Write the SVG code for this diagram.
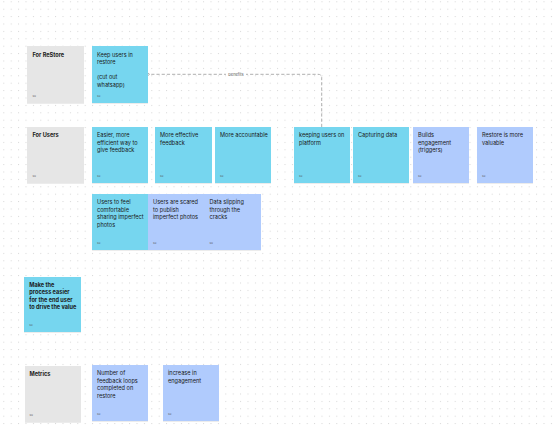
<svg xmlns="http://www.w3.org/2000/svg" width="555" height="429" viewBox="0 0 555 429">
<defs>
<pattern id="dots" x="3.3" y="1.3" width="7.4" height="7.4" patternUnits="userSpaceOnUse">
<rect x="0" y="0" width="1" height="1" fill="#d6d6d6"/>
</pattern>
<filter id="sh" x="-10%" y="-10%" width="120%" height="125%">
<feDropShadow dx="0" dy="0.6" stdDeviation="0.6" flood-color="#000" flood-opacity="0.12"/>
</filter>
<marker id="chev" markerWidth="8" markerHeight="8" refX="1" refY="4" orient="auto" markerUnits="userSpaceOnUse">
<path d="M4,1.5 L1,4 L4,6.5" fill="none" stroke="#9a9a9a" stroke-width="0.8"/>
</marker>
</defs>
<style>
.n{filter:url(#sh)}
.g{fill:#e6e6e6}
.c{fill:#76d6ef}
.b{fill:#b0cbfd}
.t{font-family:Inter,"Liberation Sans",sans-serif;font-size:5.6px;fill:#1a1a1a}
.tb{font-family:Inter,"Liberation Sans",sans-serif;font-size:5.6px;font-weight:700;fill:#1a1a1a}
.s{font-family:Inter,"Liberation Sans",sans-serif;font-size:2.6px;fill:#555}
.lbl{font-family:Inter,"Liberation Sans",sans-serif;font-size:4px;fill:#555}
</style>
<rect width="555" height="429" fill="#ffffff"/>
<rect width="555" height="429" fill="url(#dots)"/>

<g id="connectors">
<path d="M321.7,127 V78 Q321.7,74.3 318,74.3 H149.5" fill="none" stroke="#a6a6a6" stroke-width="0.9" stroke-dasharray="3.2,2" marker-end="url(#chev)"/>
<rect x="226" y="71.5" width="20" height="5.5" fill="#ffffff"/>
<text class="lbl" x="236" y="75.7" text-anchor="middle">benefits</text>
</g>

<g id="for-restore"><rect class="n g" x="27" y="46" width="57" height="57"/>
<text class="tb" x="32.5" y="56.5">For ReStore</text><text class="s" x="32.5" y="97">Su</text></g>

<g id="keep-users"><rect class="n c" x="92" y="46" width="56" height="57"/>
<text class="t" x="97" y="56.5"><tspan x="97">Keep users in</tspan><tspan x="97" dy="7.6">restore</tspan><tspan x="97" dy="15.2">(cut out</tspan><tspan x="97" dy="7.6">whatsapp)</tspan></text>
<text class="s" x="97" y="97">Su</text></g>

<g id="for-users"><rect class="n g" x="27" y="127" width="57" height="56"/>
<text class="tb" x="32.5" y="137">For Users</text><text class="s" x="32.5" y="177">Su</text></g>

<g id="easier"><rect class="n c" x="92" y="127" width="56" height="56"/>
<text class="t" x="97" y="137"><tspan x="97">Easier, more</tspan><tspan x="97" dy="7.6">efficient way to</tspan><tspan x="97" dy="7.6">give feedback</tspan></text>
<text class="s" x="97" y="177">Su</text></g>

<g id="more-effective"><rect class="n c" x="155" y="127" width="57" height="56"/>
<text class="t" x="160" y="137"><tspan x="160">More effective</tspan><tspan x="160" dy="7.6">feedback</tspan></text>
<text class="s" x="160" y="177">Su</text></g>

<g id="more-accountable"><rect class="n c" x="215" y="127" width="56" height="56"/>
<text class="t" x="220" y="137">More accountable</text>
<text class="s" x="220" y="177">Su</text></g>

<g id="keeping-users"><rect class="n c" x="294" y="127" width="56" height="56"/>
<text class="t" x="299" y="137"><tspan x="299">keeping users on</tspan><tspan x="299" dy="7.6">platform</tspan></text>
<text class="s" x="299" y="177">Su</text></g>

<g id="capturing-data"><rect class="n c" x="353" y="127" width="56" height="56"/>
<text class="t" x="358" y="137">Capturing data</text>
<text class="s" x="358" y="177">Su</text></g>

<g id="builds-engagement"><rect class="n b" x="413" y="127" width="56" height="56"/>
<text class="t" x="418" y="137"><tspan x="418">Builds</tspan><tspan x="418" dy="7.6">engagement</tspan><tspan x="418" dy="7.6">(triggers)</tspan></text>
<text class="s" x="418" y="177">Su</text></g>

<g id="restore-valuable"><rect class="n b" x="477" y="127" width="56" height="56"/>
<text class="t" x="482" y="137"><tspan x="482">Restore is more</tspan><tspan x="482" dy="7.6">valuable</tspan></text>
<text class="s" x="482" y="177">Su</text></g>

<g id="users-comfortable"><rect class="n c" x="92" y="194" width="56" height="56"/>
<text class="t" x="97" y="204"><tspan x="97">Users to feel</tspan><tspan x="97" dy="7.6">comfortable</tspan><tspan x="97" dy="7.6">sharing imperfect</tspan><tspan x="97" dy="7.6">photos</tspan></text>
<text class="s" x="97" y="244">Su</text></g>

<g id="users-scared"><rect class="n b" x="148" y="194" width="57" height="56"/>
<text class="t" x="153" y="204"><tspan x="153">Users are scared</tspan><tspan x="153" dy="7.6">to publish</tspan><tspan x="153" dy="7.6">imperfect photos</tspan></text>
<text class="s" x="153" y="244">Su</text></g>

<g id="data-slipping"><rect class="n b" x="205" y="194" width="56" height="56"/>
<text class="t" x="209.5" y="204"><tspan x="209.5">Data slipping</tspan><tspan x="209.5" dy="7.6">through the</tspan><tspan x="209.5" dy="7.6">cracks</tspan></text>
<text class="s" x="209.5" y="244">Su</text></g>

<g id="make-easier"><rect class="n c" x="24" y="277" width="57" height="55"/>
<text class="tb" x="29.3" y="286.7"><tspan x="29.3">Make the</tspan><tspan x="29.3" dy="7.5">process easier</tspan><tspan x="29.3" dy="7.5">for the end user</tspan><tspan x="29.3" dy="7.5">to drive the value</tspan></text>
<text class="s" x="29.3" y="326">Su</text></g>

<g id="metrics"><rect class="n g" x="25" y="366" width="56" height="56"/>
<text class="tb" x="29.5" y="376">Metrics</text><text class="s" x="29.5" y="416">Su</text></g>

<g id="feedback-loops"><rect class="n b" x="92" y="365" width="56" height="56"/>
<text class="t" x="97" y="375"><tspan x="97">Number of</tspan><tspan x="97" dy="7.6">feedback loops</tspan><tspan x="97" dy="7.6">completed on</tspan><tspan x="97" dy="7.6">restore</tspan></text>
<text class="s" x="97" y="415">Su</text></g>

<g id="increase-engagement"><rect class="n b" x="163" y="365" width="56" height="56"/>
<text class="t" x="168" y="375"><tspan x="168">increase in</tspan><tspan x="168" dy="7.6">engagement</tspan></text>
<text class="s" x="168" y="415">Su</text></g>
</svg>
